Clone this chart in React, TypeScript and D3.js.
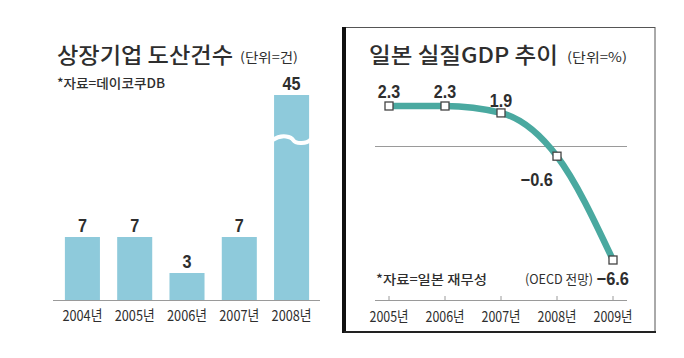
import React from 'react';
import * as d3 from 'd3';

// left panel: listed-company bankruptcies
const barYears = ['2004년', '2005년', '2006년', '2007년', '2008년'];
const barValues = [7, 7, 3, 7, 45];

// right panel: Japan real GDP
const gdpYears = ['2005년', '2006년', '2007년', '2008년', '2009년'];
const gdpValues = [2.3, 2.3, 1.9, -0.6, -6.6];
const gdpLabels = ['2.3', '2.3', '1.9', '−0.6', '−6.6'];

const W = 684;
const H = 358;
const KR = "'Noto Sans CJK KR', 'Noto Sans', sans-serif";
const NUM = "'Liberation Sans', Arial, sans-serif";
const INK = '#2e2e2e';
const BAR = '#8ecadb';
const LINE = '#4aa9a0';

// label placement relative to each point [dx, dy, anchor]
const gdpLabelPos: [number, number, string][] = [
  [0, -8, 'middle'],
  [0, -8, 'middle'],
  [0, -6, 'middle'],
  [-4, 30, 'end'],
  [16, 25, 'end'],
];

// width a condensed face would give, so the wide fallback can be squeezed
const narrowWidth = (s: string, fs: number) =>
  s.split('').reduce((acc, c) => acc + (c === '.' ? 0.24 : c === '−' ? 0.56 : 0.5), 0) * fs;

export default function App() {
  // bar chart scales
  const xb = d3.scaleBand().domain(barYears).range([56, 318]).paddingInner(0.33).paddingOuter(0.17);
  // broken axis: lower segment then compressed gap then top segment
  const yb = d3.scaleLinear().domain([0, 17.5, 40, 45]).range([300, 142.5, 138, 95]);
  const breakY = yb(29);

  // line chart scales
  const xl = d3.scalePoint().domain(gdpYears).range([389, 613]);
  const yl = d3.scaleLinear().domain([-6.6, 2.3]).range([260, 106]);
  const pts = gdpValues.map((v, i) => [xl(gdpYears[i]) as number, yl(v)] as [number, number]);
  const linePath = d3.line().curve(d3.curveMonotoneX)(pts) || '';

  const wave = (x0: number, x1: number, y: number) => {
    const w = x1 - x0;
    return `M${x0 - 2},${y} C${x0 + w * 0.25},${y - 7} ${x0 + w * 0.5},${y - 3} ${x0 + w * 0.55},${y} S${x1 - w * 0.1},${y + 5} ${x1 + 2},${y - 1}`;
  };

  return (
    <svg width={W} height={H} style={{ position: 'absolute', left: 0, top: 0, background: '#fff' }}>
      {/* ---------- left panel ---------- */}
      <text x={57} y={63} fontFamily={KR} fontSize={22} fontWeight={500} fill={INK} textLength={176} lengthAdjust="spacingAndGlyphs">
        상장기업 도산건수
      </text>
      <text x={240} y={62} fontFamily={KR} fontSize={13} fill={INK} textLength={58} lengthAdjust="spacingAndGlyphs">
        (단위=건)
      </text>
      <text x={57} y={88} fontFamily={KR} fontSize={13} fontWeight={500} fill={INK} textLength={108} lengthAdjust="spacingAndGlyphs">
        *자료=데이코쿠DB
      </text>

      {barValues.map((v, i) => {
        const x = xb(barYears[i]) as number;
        const bw = xb.bandwidth();
        const lbl = String(v);
        return (
          <g key={barYears[i]}>
            <rect x={x} y={yb(v)} width={bw} height={yb(0) - yb(v)} fill={BAR} />
            {v > 17.5 && (
              <path d={wave(x, x + bw, breakY)} fill="none" stroke="#fff" strokeWidth={4} />
            )}
            <text x={x + bw / 2} y={yb(v) - 5} textAnchor="middle" fontFamily={NUM} fontSize={18} fontWeight={700} fill={INK}
              textLength={narrowWidth(lbl, 18)} lengthAdjust="spacingAndGlyphs">
              {lbl}
            </text>
            <text x={x + bw / 2} y={321} textAnchor="middle" fontFamily={KR} fontSize={15} fill={INK} textLength={40} lengthAdjust="spacingAndGlyphs">
              {barYears[i]}
            </text>
          </g>
        );
      })}
      <line x1={53} x2={320} y1={yb(0) + 0.5} y2={yb(0) + 0.5} stroke="#9a9a9a" strokeWidth={1} />

      {/* ---------- right panel ---------- */}
      <rect x={345} y={27.5} width={310} height={304} fill="none" stroke="#555" strokeWidth={1} />
      <line x1={344} x2={344} y1={27} y2={333} stroke="#111" strokeWidth={4} />
      <line x1={344} x2={656} y1={332} y2={332} stroke="#222" strokeWidth={2} />

      <text x={369} y={63} fontFamily={KR} fontSize={22} fontWeight={500} fill={INK} textLength={189} lengthAdjust="spacingAndGlyphs">
        일본 실질GDP 추이
      </text>
      <text x={567} y={62} fontFamily={KR} fontSize={13} fill={INK} textLength={60} lengthAdjust="spacingAndGlyphs">
        (단위=%)
      </text>

      <line x1={375} x2={627} y1={Math.round(yl(0)) + 0.5} y2={Math.round(yl(0)) + 0.5} stroke="#9a9a9a" strokeWidth={1} />

      <path d={linePath} fill="none" stroke={LINE} strokeWidth={6.5} strokeLinejoin="round" />
      {pts.map(([x, y], i) => (
        <rect key={i} x={x - 4} y={y - 4} width={8} height={8} fill="#fff" stroke="#444" strokeWidth={1.3} />
      ))}
      {pts.map(([x, y], i) => {
        const [dx, dy, anchor] = gdpLabelPos[i];
        return (
          <text key={i} x={x + dx} y={y + dy} textAnchor={anchor as any} fontFamily={NUM} fontSize={18} fontWeight={700} fill={INK}
            textLength={narrowWidth(gdpLabels[i], 18)} lengthAdjust="spacingAndGlyphs">
            {gdpLabels[i]}
          </text>
        );
      })}

      <text x={376} y={284} fontFamily={KR} fontSize={13} fontWeight={500} fill={INK} textLength={111} lengthAdjust="spacingAndGlyphs">
        *자료=일본 재무성
      </text>
      <text x={525} y={284} fontFamily={KR} fontSize={13} fill={INK} textLength={68} lengthAdjust="spacingAndGlyphs">
        (OECD 전망)
      </text>

      <line x1={375} x2={627} y1={300.5} y2={300.5} stroke="#9a9a9a" strokeWidth={1} />
      {gdpYears.map((yr) => {
        const x = xl(yr) as number;
        return (
          <g key={yr}>
            <line x1={x} x2={x} y1={296} y2={300} stroke="#9a9a9a" strokeWidth={1} />
            <text x={x} y={322} textAnchor="middle" fontFamily={KR} fontSize={15} fill={INK} textLength={39} lengthAdjust="spacingAndGlyphs">
              {yr}
            </text>
          </g>
        );
      })}
    </svg>
  );
}
